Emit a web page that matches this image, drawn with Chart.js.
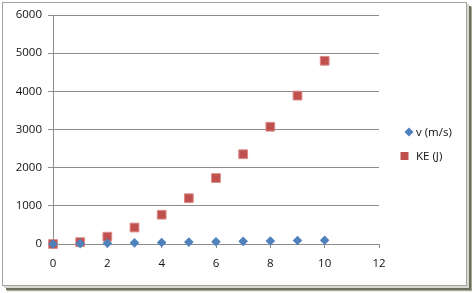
<!DOCTYPE html>
<html>
<head>
<meta charset="utf-8">
<script src="https://cdn.jsdelivr.net/npm/chart.js@4/dist/chart.umd.min.js"></script>
<style>
  html, body { margin: 0; padding: 0; background: #ffffff; }
  #wrap { position: relative; width: 472px; height: 293px; overflow: hidden; }
  #frame {
    position: absolute; left: 2px; top: 2px; width: 463px; height: 282px;
    border: 1px solid #a3a3a3; background: #ffffff;
    box-shadow: 2px 2px 0 #d8d8d0, 4px 4px 0 #6f6f5e, 5px 5px 1px #a9a993;
  }
  #c { position: absolute; left: 0; top: 0; }
</style>
</head>
<body>
<div id="wrap">
  <div id="frame"></div>
  <canvas id="c" width="472" height="293"></canvas>
</div>
<script>
const xValues = [0, 1, 2, 3, 4, 5, 6, 7, 8, 9, 10];
const velocity = [0, 10, 20, 30, 40, 50, 60, 70, 80, 90, 100];
const kineticEnergy = [0, 48, 192, 432, 768, 1200, 1728, 2352, 3072, 3888, 4800];
const seriesNames = ['v (m/s)', 'KE (J)'];
const xTicks = [0, 2, 4, 6, 8, 10, 12];
const yTicks = [0, 1000, 2000, 3000, 4000, 5000, 6000];

const BLUE = '#4F81BD';
const RED = '#C0504D';
const FONT = { family: "'Open Sans', 'Noto Sans', sans-serif", size: 11.5 };
const TEXT = '#111111';
const GRID = '#8c8c8c';

const toPoints = (ys) => xValues.map((x, i) => ({ x: x, y: ys[i] }));

const legendPlugin = {
  id: 'sideLegend',
  afterDraw(chart) {
    const ctx = chart.ctx;
    ctx.save();
    ctx.font = FONT.size + 'px ' + FONT.family;
    ctx.textBaseline = 'middle';
    ctx.textAlign = 'left';
    const rows = [132, 156];
    chart.data.datasets.forEach((ds, i) => {
      const y = rows[i];
      ctx.fillStyle = ds.backgroundColor;
      if (ds.pointStyle === 'rectRot') {
        ctx.beginPath();
        ctx.moveTo(409 - 4.5, y); ctx.lineTo(409, y - 4.5);
        ctx.lineTo(409 + 4.5, y); ctx.lineTo(409, y + 4.5);
        ctx.closePath(); ctx.fill();
      } else {
        ctx.fillRect(404.5 - 4, y - 4, 8, 8);
      }
      ctx.fillStyle = TEXT;
      ctx.fillText(ds.label, 416, y + 0.5);
    });
    ctx.restore();
  }
};

new Chart(document.getElementById('c'), {
  type: 'scatter',
  data: {
    datasets: [
      {
        label: seriesNames[0],
        data: toPoints(velocity),
        pointStyle: 'rectRot',
        pointRadius: 4.8,
        pointHoverRadius: 4.8,
        backgroundColor: BLUE,
        borderColor: BLUE,
        borderWidth: 0,
        clip: false
      },
      {
        label: seriesNames[1],
        data: toPoints(kineticEnergy),
        pointStyle: 'rect',
        pointRadius: 6.2,
        pointHoverRadius: 6.2,
        backgroundColor: RED,
        borderColor: '#d98c8a',
        borderWidth: 1,
        clip: false
      }
    ]
  },
  options: {
    responsive: false,
    animation: false,
    events: [],
    layout: { padding: { left: 0, top: 15, right: 93, bottom: 0 } },
    plugins: { legend: { display: false }, tooltip: { enabled: false } },
    scales: {
      x: {
        type: 'linear',
        min: 0, max: 12,
        afterFit(scale) { scale.height = 49; },
        afterBuildTicks(scale) { scale.ticks = xTicks.map(v => ({ value: v })); },
        ticks: { font: FONT, color: TEXT, padding: 9, maxRotation: 0, callback: (v) => String(v) },
        grid: { drawOnChartArea: false, drawTicks: true, tickLength: 4, color: GRID, tickColor: GRID },
        border: { display: true, color: GRID, width: 1 }
      },
      y: {
        type: 'linear',
        min: 0, max: 6000,
        afterFit(scale) { scale.width = 53; },
        afterBuildTicks(scale) { scale.ticks = yTicks.map(v => ({ value: v })); },
        ticks: { font: FONT, color: TEXT, padding: 6, callback: (v) => String(v) },
        grid: { drawOnChartArea: true, drawTicks: true, tickLength: 5, color: GRID, tickColor: GRID },
        border: { display: true, color: GRID, width: 1 }
      }
    }
  },
  plugins: [legendPlugin]
});
</script>
</body>
</html>
